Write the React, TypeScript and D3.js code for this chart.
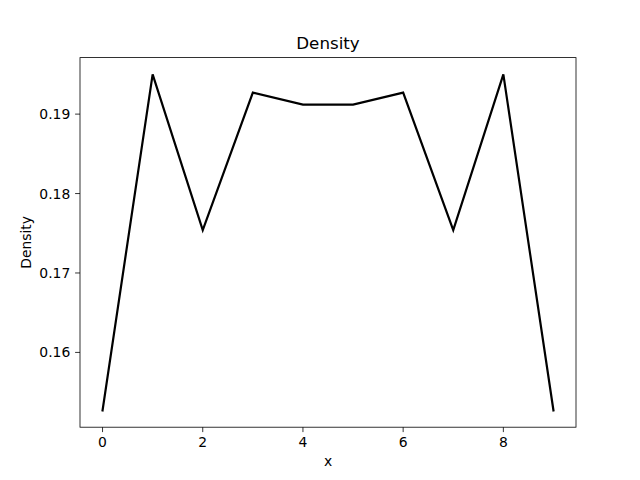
import React from "react";
import * as d3 from "d3";

const xs = [0, 1, 2, 3, 4, 5, 6, 7, 8, 9];
const density = [0.1527, 0.195, 0.1754, 0.1927, 0.1912, 0.1912, 0.1927, 0.1754, 0.195, 0.1527];
const xTicks = [0, 2, 4, 6, 8];
const yTicks = [0.16, 0.17, 0.18, 0.19];

export default function App() {
  const W = 640, H = 480;
  const L = 80, R = 576, T = 57.6, B = 427.2;
  const xMin = d3.min(xs)!, xMax = d3.max(xs)!;
  const yMin = d3.min(density)!, yMax = d3.max(density)!;
  const xm = (xMax - xMin) * 0.05, ym = (yMax - yMin) * 0.05;
  const x = d3.scaleLinear().domain([xMin - xm, xMax + xm]).range([L, R]);
  const y = d3.scaleLinear().domain([yMin - ym, yMax + ym]).range([B, T]);
  const line = d3.line<number>().x((_, i) => x(xs[i])).y((d) => y(d));
  const font = "DejaVu Sans, sans-serif";
  return (
    <svg width={W} height={H} style={{ position: "absolute", left: 0, top: 0, background: "#fff" }} fontFamily={font}>
      <rect width={W} height={H} fill="#fff" />
      <path d={line(density)!} fill="none" stroke="#000" strokeWidth={2.2} strokeLinejoin="miter" strokeLinecap="square" />
      <rect x={L} y={T} width={R - L} height={B - T} fill="none" stroke="#000" strokeWidth={0.8} />
      {xTicks.map((t) => (
        <g key={t}>
          <line x1={x(t)} x2={x(t)} y1={B} y2={B + 4.9} stroke="#000" strokeWidth={0.8} />
          <text x={x(t)} y={B + 20} fontSize={13.9} textAnchor="middle">{t}</text>
        </g>
      ))}
      {yTicks.map((t) => (
        <g key={t}>
          <line x1={L - 4.9} x2={L} y1={y(t)} y2={y(t)} stroke="#000" strokeWidth={0.8} />
          <text x={L - 9.7} y={y(t) + 5} fontSize={13.9} textAnchor="end">{t.toFixed(2)}</text>
        </g>
      ))}
      <text x={(L + R) / 2} y={466} fontSize={13.9} textAnchor="middle">x</text>
      <text transform={`translate(31,${(T + B) / 2}) rotate(-90)`} fontSize={13.9} textAnchor="middle">Density</text>
      <text x={(L + R) / 2} y={49} fontSize={16.7} textAnchor="middle">Density</text>
    </svg>
  );
}
